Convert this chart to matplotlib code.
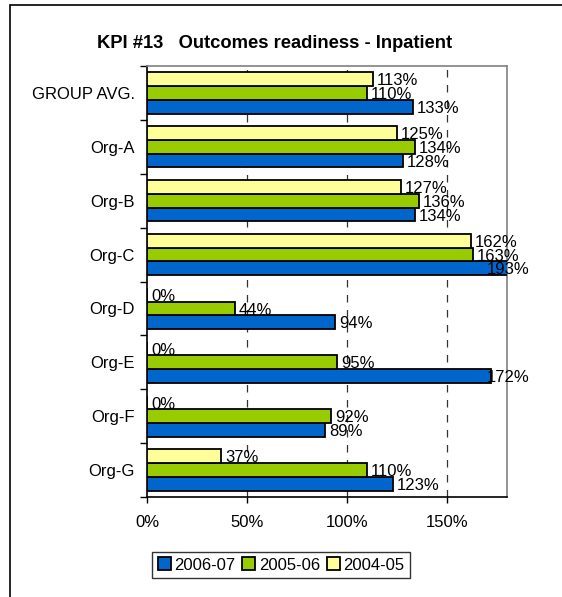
"""
KPI #13 outcomes readiness chart, horizontal grouped bars
"""

import matplotlib
matplotlib.use("Agg")
import matplotlib.pyplot as plt
from matplotlib.patches import Rectangle
import numpy as np

categories = ["GROUP AVG.", "Org-A", "Org-B", "Org-C", "Org-D", "Org-E", "Org-F", "Org-G"]
series_names = ["2006-07", "2005-06", "2004-05"]
values_2006_07 = [133, 128, 134, 193, 94, 172, 89, 123]
values_2005_06 = [110, 134, 136, 163, 44, 95, 92, 110]
values_2004_05 = [113, 125, 127, 162, 0, 0, 0, 37]
colors = ["#0066CC", "#99CC00", "#FFFF99"]
x_ticks = [0, 50, 100, 150]

plt.rcParams['font.family'] = ['Liberation Sans', 'DejaVu Sans']
FS = 12

fig = plt.figure(figsize=(5.62, 5.97), dpi=100)
# outer chart border (runs off the right and bottom edges)
fig.patches.append(Rectangle((10 / 562, -0.2), 1.2, 1.2 - 5 / 597,
                             transform=fig.transFigure, fill=False,
                             edgecolor="black", linewidth=1.2))
ax = fig.add_axes([147 / 562, 1 - 497 / 597, 360 / 562, 431 / 597])

n = len(categories)
y = np.arange(n)
h = 0.255
series = [values_2006_07, values_2005_06, values_2004_05]
offsets = [h, 0, -h]
for vals, off, col, name in zip(series, offsets, colors, series_names):
    bars = ax.barh(y + off, vals, height=h, color=col, edgecolor="black",
                   linewidth=1.3, label=name, zorder=3)
    for b, v in zip(bars, vals):
        ax.text(min(v + 2, 170), b.get_y() + b.get_height() / 2 + 0.03, f"{v}%",
                va="center", ha="left", fontsize=FS, clip_on=False, zorder=4)

ax.set_xlim(0, 180)
ax.set_ylim(n - 0.5, -0.5)
ax.set_xticks(x_ticks)
ax.set_xticklabels([f"{t}%" for t in x_ticks], fontsize=FS)
ax.set_yticks(y)
ax.set_yticklabels(categories, fontsize=FS)
ax.tick_params(axis="y", length=0, pad=9)
ax.set_yticks(np.arange(n + 1) - 0.5, minor=True)
ax.tick_params(axis="y", which="minor", length=5, width=1, direction="out")
ax.tick_params(axis="x", length=4, width=1, direction="out", pad=9)

for t in x_ticks[1:]:
    ax.axvline(t, color="#333333", linestyle=(0, (6, 6)), linewidth=0.9, zorder=1)

ax.spines["left"].set_color("black")
ax.spines["left"].set_linewidth(1.2)
ax.spines["bottom"].set_color("black")
ax.spines["bottom"].set_linewidth(1.2)
for s in ["top", "right"]:
    ax.spines[s].set_color("#808080")
    ax.spines[s].set_linewidth(1.2)

fig.text(275 / 562, 1 - 43 / 597, "KPI #13   Outcomes readiness - Inpatient",
         ha="center", va="center", fontsize=13.2, fontweight="bold")

leg = fig.legend(loc="center", bbox_to_anchor=(281 / 562, 1 - 565 / 597), ncol=3,
                 fontsize=FS, frameon=True, fancybox=False, edgecolor="black",
                 handlelength=0.8, handleheight=0.8, handletextpad=0.2,
                 columnspacing=0.4, borderpad=0.35)
leg.get_frame().set_linewidth(1.0)

fig.savefig("out.png", dpi=100)
